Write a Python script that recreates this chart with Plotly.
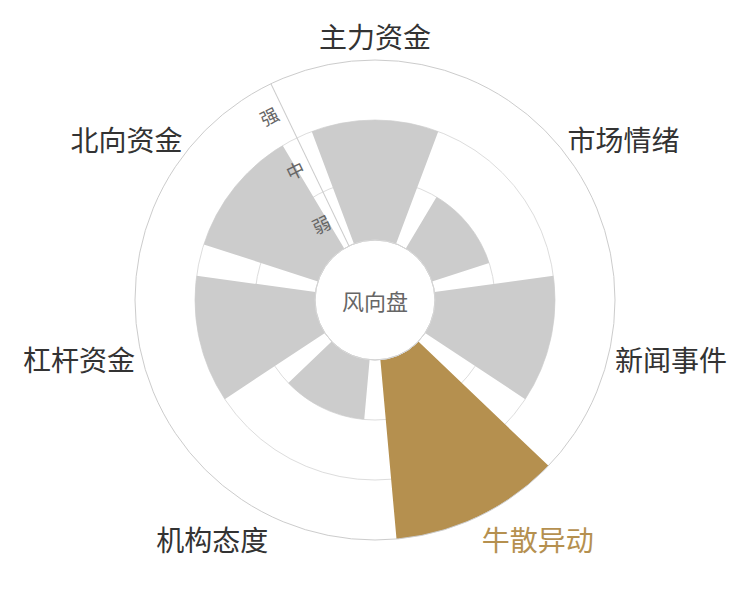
import plotly.graph_objects as go

# 风向盘: 各维度强弱 (0-3)
categories = ['主力资金', '市场情绪', '新闻事件', '牛散异动', '机构态度', '杠杆资金', '北向资金']
values = [2, 1, 2, 3, 1, 2, 2]
level_vals = [0.5, 1.5, 2.5]
level_text = ['弱', '中', '强']
highlight = '牛散异动'

grey = '#cccccc'
gold = '#b5904f'
colors = [gold if c == highlight else grey for c in categories]
tick_text = [f'<span style="color:{gold}">{c}</span>' if c == highlight else c
             for c in categories]

fig = go.Figure()

# bottom polar only carries the grid circles
fig.add_trace(go.Barpolar(r=[0] * len(categories), theta=categories, subplot='polar',
                          marker_color='rgba(0,0,0,0)', hoverinfo='skip'))
fig.add_trace(go.Barpolar(r=values, theta=categories, width=0.8, subplot='polar2',
                          marker=dict(color=colors, line=dict(width=0))))

# page body has an 8px margin, so the centre sits at (367, 292) in figure px
cx, cy, rad = 367 / 750, 1 - 292 / 600, 240
common = dict(domain=dict(x=[cx - rad / 750, cx + rad / 750],
                          y=[cy - rad / 600, cy + rad / 600]),
              hole=0.25, bgcolor='rgba(0,0,0,0)')

fig.update_layout(
    width=750, height=600,
    margin=dict(l=0, r=0, t=0, b=0),
    paper_bgcolor='white',
    showlegend=False,
    font=dict(family='Noto Sans CJK SC'),
    polar=dict(
        **common,
        radialaxis=dict(range=[0, 3], tickvals=[1, 2, 3], showticklabels=False,
                        ticks='', showline=False, gridcolor='#dddddd', angle=115.7),
        angularaxis=dict(rotation=90, direction='clockwise', showgrid=False,
                         showline=False, showticklabels=False, ticks=''),
    ),
    polar2=dict(
        **common,
        radialaxis=dict(range=[0, 3], tickvals=level_vals, ticktext=level_text,
                        showgrid=False, showline=True, linecolor='#cccccc', ticks='',
                        angle=115.7, tickangle=90, side='counterclockwise',
                        tickfont=dict(size=18, color='#666666')),
        angularaxis=dict(rotation=90, direction='clockwise', showgrid=False,
                         linecolor='#cccccc', ticks='', tickvals=categories,
                         ticktext=tick_text, tickfont=dict(size=28, color='#333333')),
    ),
    shapes=[dict(type='circle', xref='paper', yref='paper',
                 x0=cx - 60 / 750, x1=cx + 60 / 750,
                 y0=cy - 60 / 600, y1=cy + 60 / 600,
                 line=dict(color='#d5d5d5', width=1))],
    annotations=[dict(text='风向盘', x=cx, y=cy, xref='paper', yref='paper',
                      showarrow=False, font=dict(size=22, color='#666666'))],
)

fig.write_html('out.html')
